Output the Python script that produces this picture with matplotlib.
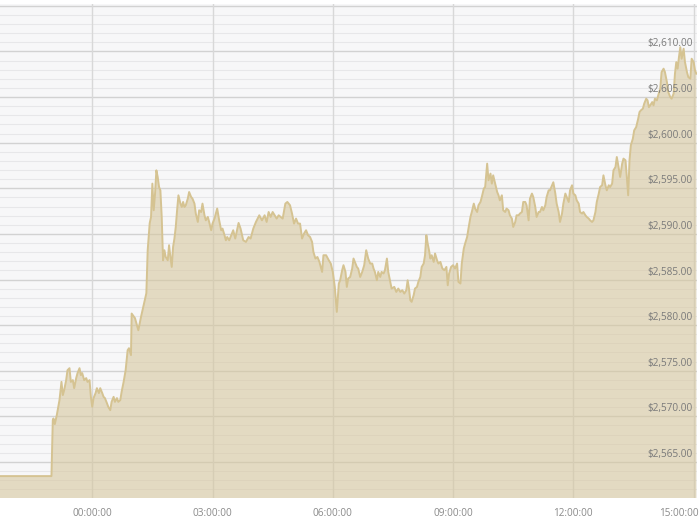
import matplotlib.pyplot as plt
import matplotlib.transforms as mtransforms

# minutes from 00:00 (negative = previous evening) and gold price in USD
minutes = [
    -138, -61, -59, -58, -56, -53, -49, -46, -44, -42, -39, -37, -34, -32, -29, -27,
    -24, -22, -19, -17, -15, -12, -9, -7, -4, -2, 0, 2, 5, 7, 10, 12, 15, 17, 19, 22,
    24, 27, 29, 32, 34, 37, 39, 42, 44, 47, 50, 53, 55, 58, 59, 64, 69, 73, 77, 81,
    82, 83, 86, 88, 90, 92, 94, 96, 98, 100, 102, 104, 106, 108, 110, 113, 115, 117,
    119, 121, 123, 125, 127, 129, 132, 134, 136, 138, 140, 143, 145, 148, 150, 153,
    155, 158, 160, 163, 165, 168, 170, 173, 175, 178, 180, 183, 185, 187, 190, 193,
    195, 198, 200, 202, 205, 211, 214, 219, 222, 226, 230, 234, 237, 241, 245, 250,
    254, 258, 261, 264, 267, 270, 273, 276, 279, 282, 285, 289, 292, 296, 299, 302,
    305, 308, 311, 314, 317, 320, 323, 326, 329, 331, 334, 337, 340, 344, 346, 350,
    354, 357, 360, 363, 365, 366, 369, 371, 374, 376, 379, 381, 383, 386, 389, 391,
    394, 396, 398, 401, 404, 407, 410, 413, 416, 419, 421, 423, 426, 428, 431, 433,
    436, 438, 441, 443, 446, 448, 452, 455, 458, 461, 464, 467, 470, 472, 474, 476,
    478, 481, 483, 486, 488, 491, 493, 496, 498, 500, 502, 504, 506, 508, 511, 513,
    516, 518, 521, 524, 527, 530, 532, 534, 537, 540, 543, 546, 548, 551, 553, 556,
    558, 561, 563, 566, 568, 571, 573, 576, 578, 581, 583, 586, 588, 591, 593, 596,
    598, 600, 603, 606, 608, 610, 613, 615, 618, 620, 623, 625, 628, 630, 633, 635,
    638, 640, 643, 645, 648, 650, 653, 655, 658, 660, 663, 665, 668, 670, 673, 675,
    678, 680, 683, 685, 690, 693, 695, 698, 700, 703, 705, 708, 710, 713, 715, 718,
    720, 723, 725, 728, 730, 733, 735, 738, 740, 743, 745, 748, 750, 753, 755, 758,
    760, 763, 765, 768, 770, 773, 775, 778, 780, 783, 785, 788, 790, 793, 795, 798,
    800, 802, 804, 806, 809, 811, 814, 817, 819, 821, 824, 826, 829, 831, 833, 835,
    838, 840, 842, 845, 847, 850, 852, 855, 857, 860, 862, 865, 867, 870, 872, 874,
    876, 878, 880, 882, 885, 887, 890, 892, 895, 897, 900, 902, 904,
]
price = [
    2563.45, 2563.45, 2569.59, 2569.77, 2569.15, 2570.14, 2571.78, 2573.78, 2572.33,
    2572.87, 2573.97, 2575.06, 2575.28, 2573.78, 2573.97, 2573.09, 2574.19, 2574.74,
    2575.28, 2574.52, 2574.74, 2573.97, 2574.19, 2573.78, 2573.97, 2572.14, 2571.05,
    2572.00, 2572.55, 2573.09, 2572.55, 2573.09, 2572.55, 2572.14, 2572.00, 2571.45,
    2571.05, 2570.68, 2571.59, 2572.14, 2571.59, 2572.00, 2571.59, 2571.78, 2572.69,
    2573.78, 2575.06, 2577.25, 2577.47, 2576.71, 2581.27, 2580.76, 2579.44, 2580.90,
    2582.18, 2583.50, 2586.02, 2588.21, 2591.17, 2591.86, 2595.51, 2592.59, 2594.42,
    2596.97, 2596.24, 2595.14, 2594.78, 2591.86, 2587.11, 2588.21, 2587.47, 2587.11,
    2588.76, 2587.47, 2586.38, 2588.57, 2589.49, 2590.76, 2592.59, 2594.23, 2593.32,
    2592.95, 2593.50, 2592.95, 2593.14, 2593.87, 2594.59, 2594.05, 2593.87, 2593.32,
    2592.23, 2591.31, 2592.59, 2592.40, 2593.32, 2592.04, 2591.49, 2591.86, 2591.31,
    2590.40, 2591.13, 2591.68, 2592.23, 2592.78, 2591.49, 2590.40, 2590.58, 2589.85,
    2589.30, 2589.66, 2589.30, 2590.40, 2589.49, 2591.20, 2590.58, 2589.30, 2589.12,
    2589.66, 2589.49, 2590.58, 2591.31, 2592.04, 2591.49, 2592.04, 2591.31, 2592.40,
    2591.86, 2592.40, 2592.04, 2591.68, 2592.04, 2591.86, 2591.68, 2593.32, 2593.50,
    2593.14, 2592.23, 2591.13, 2591.68, 2591.13, 2591.13, 2589.49, 2590.04, 2590.40,
    2589.85, 2589.66, 2589.12, 2588.02, 2587.30, 2587.47, 2586.93, 2585.83, 2587.66,
    2587.66, 2587.11, 2586.75, 2585.83, 2584.19, 2582.37, 2581.45, 2584.56, 2584.92,
    2586.02, 2586.57, 2585.83, 2584.19, 2585.11, 2585.28, 2586.20, 2587.30, 2586.75,
    2586.38, 2586.20, 2585.28, 2585.83, 2586.57, 2588.21, 2587.30, 2586.75, 2586.75,
    2586.20, 2585.83, 2584.92, 2585.83, 2585.28, 2585.83, 2585.66, 2586.02, 2587.30,
    2585.83, 2584.74, 2584.01, 2584.19, 2583.64, 2584.01, 2583.64, 2583.83, 2583.46,
    2583.83, 2584.92, 2584.01, 2582.73, 2582.55, 2583.28, 2584.01, 2584.19, 2584.74,
    2585.28, 2586.38, 2586.75, 2587.66, 2589.85, 2588.94, 2588.21, 2587.30, 2587.66,
    2586.93, 2587.85, 2587.11, 2586.75, 2586.93, 2586.20, 2586.02, 2586.38, 2584.37,
    2585.66, 2586.38, 2586.57, 2586.20, 2586.75, 2584.74, 2584.56, 2586.75, 2588.39,
    2588.94, 2589.66, 2590.58, 2591.86, 2592.40, 2593.32, 2592.78, 2592.40, 2593.14,
    2593.50, 2594.05, 2594.97, 2595.14, 2597.70, 2595.88, 2596.61, 2595.51, 2596.42,
    2595.51, 2594.59, 2594.23, 2593.68, 2594.23, 2592.59, 2592.40, 2592.78, 2592.59,
    2592.04, 2591.68, 2590.76, 2591.31, 2592.04, 2592.04, 2592.23, 2592.40, 2593.50,
    2593.50, 2593.14, 2591.49, 2593.87, 2594.42, 2594.05, 2592.95, 2591.86, 2592.40,
    2592.40, 2592.95, 2592.59, 2593.14, 2594.05, 2594.78, 2594.78, 2595.66, 2594.42,
    2593.32, 2592.40, 2591.31, 2592.23, 2593.32, 2594.42, 2594.05, 2593.50, 2594.78,
    2595.33, 2594.42, 2594.23, 2593.68, 2593.32, 2592.40, 2592.23, 2592.40, 2592.04,
    2591.86, 2591.68, 2591.49, 2591.31, 2591.49, 2592.40, 2593.50, 2594.42, 2595.14,
    2595.33, 2596.42, 2595.33, 2594.78, 2595.33, 2595.14, 2595.51, 2596.97, 2597.33,
    2598.43, 2597.16, 2596.24, 2597.70, 2598.25, 2598.07, 2596.24, 2594.23, 2598.07,
    2599.71, 2600.44, 2601.35, 2601.71, 2602.63, 2603.36, 2603.54, 2603.73, 2604.28,
    2604.82, 2604.64, 2603.90, 2604.09, 2604.45, 2604.09, 2604.82, 2604.64, 2605.19,
    2605.92, 2607.74, 2608.11, 2607.74, 2606.64, 2605.55, 2605.00, 2604.82, 2605.37,
    2607.56, 2608.83, 2608.11, 2609.38, 2610.47, 2609.20, 2610.30, 2608.83, 2607.74,
    2607.19, 2607.01, 2609.20, 2608.83, 2607.92, 2607.56,
]

x_ticks = [0, 180, 360, 540, 720, 900]
x_labels = ["00:00:00", "03:00:00", "06:00:00", "09:00:00", "12:00:00", "15:00:00"]
y_ticks = [2565, 2570, 2575, 2580, 2585, 2590, 2595, 2600, 2605, 2610]

fig = plt.figure(figsize=(7, 5.24), dpi=100)
ax = fig.add_axes([0, 1 - 498 / 524, 697 / 700, 494 / 524])
ax.set_facecolor("#f7f7f8")

ax.set_xlim(-138, 905)
ax.set_ylim(2561.05, 2615.2)

# horizontal grid: every dollar light, every five dollars darker
for v in range(2562, 2616):
    major = v % 5 == 0
    ax.axhline(v, color="#d2d2d2" if major else "#e7e7e9",
               lw=1.0 if major else 0.8, zorder=0.5)
for t in x_ticks:
    ax.axvline(t, color="#d8d8d8", lw=1.0, zorder=0.5)

ax.fill_between(minutes, price, 2500, color="#d6c69c", alpha=0.58, lw=0, zorder=1)
ax.plot(minutes, price, color="#d5c392", lw=1.4, zorder=2)

for side in ax.spines.values():
    side.set_visible(False)

ax.set_yticks([])
ax.set_xticks(x_ticks)
ax.set_xticklabels(x_labels, fontfamily="Open Sans", fontsize=7.2, color="#8a8a8a")
ax.tick_params(axis="x", length=0, pad=7)

# last time label is pushed left so it stays inside the picture
last = ax.get_xticklabels()[-1]
last.set_ha("right")
last.set_transform(last.get_transform() +
                   mtransforms.ScaledTranslation(5 / 100, 0, fig.dpi_scale_trans))

trans = mtransforms.blended_transform_factory(ax.transAxes, ax.transData)
for v in y_ticks:
    ax.annotate(f"${v:,.2f}", xy=(693 / 697, v), xycoords=trans,
                xytext=(0, 2), textcoords="offset pixels",
                ha="right", va="bottom", fontfamily="Open Sans",
                fontsize=7.2, color="#7a7a7a", zorder=3)

fig.savefig("out.png", dpi=100)
